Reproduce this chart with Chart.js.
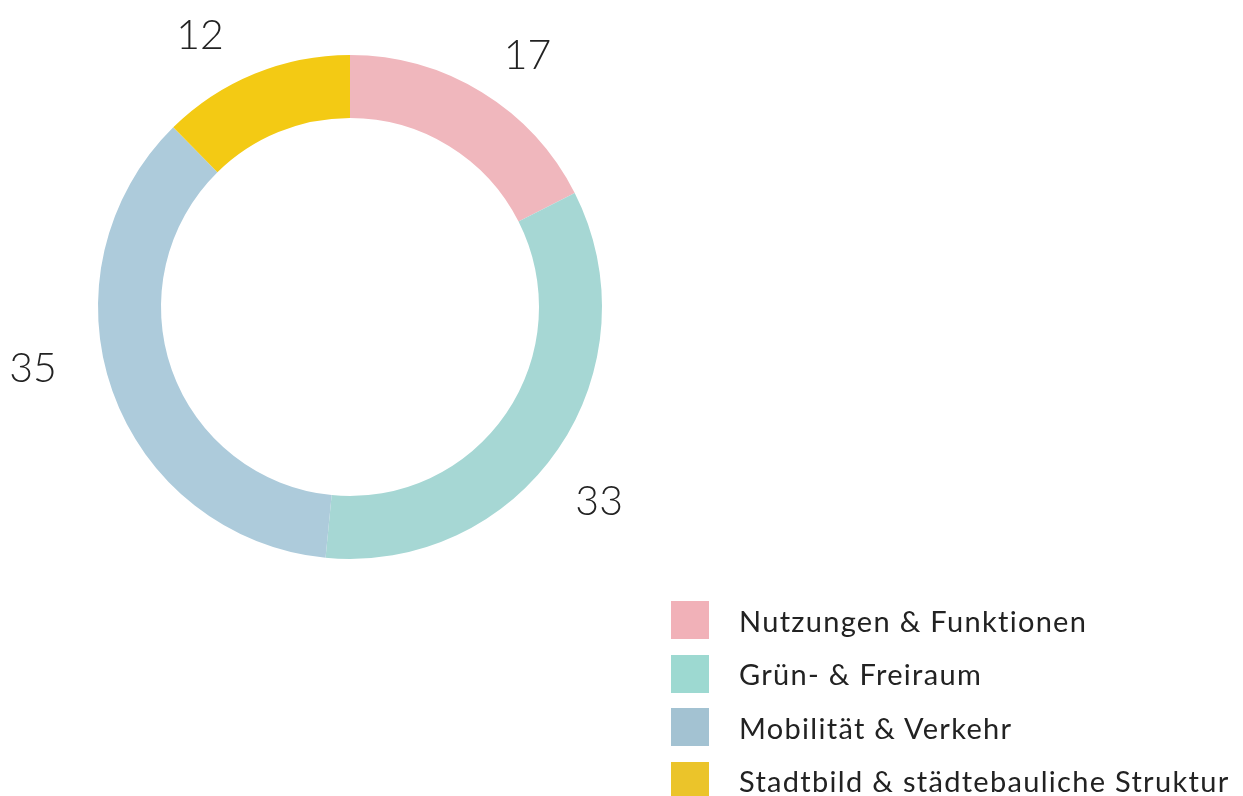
<!DOCTYPE html>
<html lang="de">
<head>
<meta charset="utf-8">
<title>Themen</title>
<script src="https://cdn.jsdelivr.net/npm/chart.js@4/dist/chart.umd.min.js"></script>
<style>
  html, body {
    margin: 0;
    padding: 0;
    background: #fff;
    width: 1243px;
    height: 796px;
    overflow: hidden;
    font-family: "Lato", "Noto Sans", sans-serif;
    color: #222;
  }
  #chartWrap {
    position: absolute;
    left: 0;
    top: 0;
    width: 700px;
    height: 614px;
  }
  #legend {
    position: absolute;
    left: 671px;
    top: 601px;
    margin: 0;
    padding: 0;
    list-style: none;
  }
  #legend li {
    display: flex;
    align-items: center;
    height: 38px;
    margin-bottom: 15.5px;
    font-size: 29px;
    font-weight: 400;
    letter-spacing: 1.3px;
    white-space: nowrap;
  }
  #legend .box {
    width: 38px;
    height: 38px;
    margin-right: 30px;
    flex: none;
  }
</style>
</head>
<body>
<div id="chartWrap"><canvas id="donut"></canvas></div>
<ul id="legend"></ul>

<script>
// Daten
const categories = [
  "Nutzungen & Funktionen",
  "Grün- & Freiraum",
  "Mobilität & Verkehr",
  "Stadtbild & städtebauliche Struktur",
];
const values = [17, 33, 35, 12];
const sliceColors = ["#f0b7bd", "#a6d7d4", "#adcbdb", "#f3ca14"];
const legendColors = ["#f1b1b8", "#9dd9d1", "#a3c2d2", "#ebc42a"];

// Legende (HTML)
const legendEl = document.getElementById("legend");
categories.forEach((name, i) => {
  const li = document.createElement("li");
  const box = document.createElement("span");
  box.className = "box";
  box.style.background = legendColors[i];
  li.appendChild(box);
  li.appendChild(document.createTextNode(name));
  legendEl.appendChild(li);
});

// Werte aussen am Ring
const outerLabels = {
  id: "outerLabels",
  afterDatasetsDraw(chart, args, opts) {
    const { ctx } = chart;
    const meta = chart.getDatasetMeta(0);
    ctx.save();
    ctx.font = opts.font;
    ctx.fillStyle = opts.color;
    ctx.textAlign = "center";
    ctx.textBaseline = "middle";
    meta.data.forEach((arc, i) => {
      const p = arc.getProps(["x", "y", "startAngle", "endAngle", "outerRadius"], true);
      const mid = (p.startAngle + p.endAngle) / 2 + (opts.shift[i] * Math.PI) / 180;
      const r = p.outerRadius * opts.dist[i];
      ctx.fillText(String(values[i]), p.x + Math.cos(mid) * r, p.y + Math.sin(mid) * r + 2);
    });
    ctx.restore();
  },
};

new Chart(document.getElementById("donut"), {
  type: "doughnut",
  data: {
    labels: categories,
    datasets: [
      {
        data: values,
        backgroundColor: sliceColors,
        borderWidth: 0,
        hoverOffset: 0,
      },
    ],
  },
  options: {
    responsive: true,
    maintainAspectRatio: false,
    animation: false,
    cutout: "75%",
    layout: { padding: 55 },
    events: [],
    plugins: {
      legend: { display: false },
      tooltip: { enabled: false },
      outerLabels: {
        font: '300 41px "Lato", "Noto Sans", sans-serif',
        color: "#222",
        shift: [3.5, 3.4, 8.8, -6.5],
        dist: [1.226, 1.25, 1.28, 1.236],
      },
    },
  },
  plugins: [outerLabels],
});
</script>
</body>
</html>
